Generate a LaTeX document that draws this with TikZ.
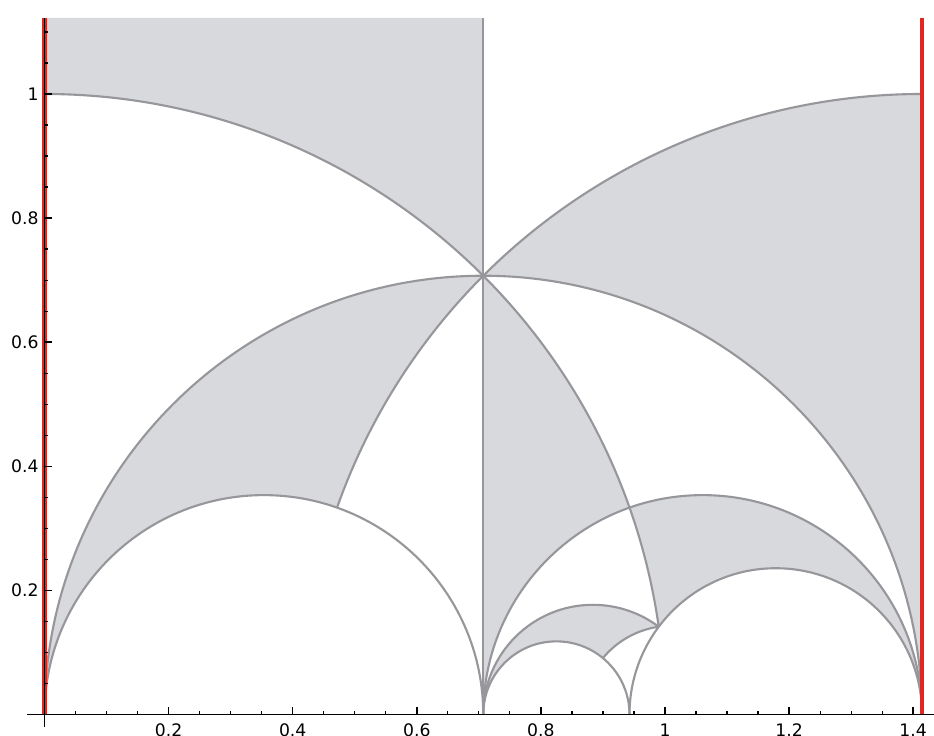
\documentclass[tikz,border=0pt]{standalone}
\usepackage{fontspec}
\setmainfont{DejaVu Sans}
\definecolor{regfill}{RGB}{216,217,220}
\definecolor{geoline}{RGB}{150,150,155}
\definecolor{redc}{RGB}{224,40,32}
\tikzset{
  geo/.style={draw=geoline, line width=0.6pt},
  reg/.style={fill=regfill},
  redbound/.style={draw=redc, line width=1.2pt},
  axisline/.style={draw=black, line width=0.35pt},
  majortick/.style={draw=black, line width=0.4pt},
  minortick/.style={draw=black, line width=0.35pt},
  ticklab/.style={font=\fontsize{4.9}{5.8}\selectfont, inner sep=0pt, text=black}
}
\begin{document}
\begin{tikzpicture}[x=6.205cm,y=6.205cm]
\def\yt{1.1225}
\fill[white] (-0.07172,-0.03465) rectangle (1.43352,1.15149);
\useasboundingbox (-0.07172,-0.03465) rectangle (1.43352,1.15149);
% shaded triangles
\fill[reg] (0,\yt) -- (0,1) arc[start angle=90,end angle=45,radius=1] -- (0.70711,\yt) -- cycle;
\fill[reg] (0.70711,0.70711) arc[start angle=135,end angle=90,radius=1] -- (1.41421,0) arc[start angle=0,end angle=90,radius=0.70711] -- cycle;
\fill[reg] (0,0) arc[start angle=180,end angle=90,radius=0.70711] arc[start angle=135,end angle=160.529,radius=1] arc[start angle=70.529,end angle=180,radius=0.35355] -- cycle;
\fill[reg] (0.70711,0) -- (0.70711,0.70711) arc[start angle=45,end angle=19.471,radius=1] arc[start angle=109.471,end angle=180,radius=0.35355] -- cycle;
\fill[reg] (0.70711,0) arc[start angle=180,end angle=53.130,radius=0.17678] arc[start angle=98.130,end angle=140.48,radius=0.142857] arc[start angle=50.48,end angle=180,radius=0.11785] -- cycle;
\fill[reg] (0.94281,0.33333) arc[start angle=19.471,end angle=8.130,radius=1] arc[start angle=143.130,end angle=0,radius=0.23570] arc[start angle=0,end angle=109.471,radius=0.35355] -- cycle;
% geodesic edges
\draw[geo] (0,1) arc[start angle=90,end angle=8.130,radius=1];
\draw[geo] (1.41421,1) arc[start angle=90,end angle=160.529,radius=1];
\draw[geo] (0,0) arc[start angle=180,end angle=0,radius=0.70711];
\draw[geo] (0,0) arc[start angle=180,end angle=0,radius=0.35355];
\draw[geo] (0.70711,0) arc[start angle=180,end angle=0,radius=0.35355];
\draw[geo] (0.70711,0) arc[start angle=180,end angle=53.130,radius=0.17678];
\draw[geo] (0.70711,0) arc[start angle=180,end angle=0,radius=0.11785];
\draw[geo] (0.94281,0) arc[start angle=180,end angle=0,radius=0.23570];
\draw[geo] (0.98995,0.14142) arc[start angle=98.130,end angle=140.48,radius=0.142857];
\draw[geo] (0.70711,0) -- (0.70711,\yt);
% red boundary lines
\draw[redbound] (0,0) -- (0,\yt);
\draw[redbound] (1.41421,0) -- (1.41421,\yt);
% axes
\draw[axisline] (-0.028,0) -- (1.43352,0);
\draw[axisline] (0,-0.02) -- (0,\yt);
% ticks
\foreach \v in {0.2,0.4,0.6,0.8,1.0,1.2,1.4} \draw[majortick] (\v,0) -- (\v,0.0113);
\foreach \v in {0.05,0.1,0.15,0.25,0.3,0.35,0.45,0.5,0.55,0.65,0.7,0.75,0.85,0.9,0.95,1.05,1.1,1.15,1.25,1.3,1.35} \draw[minortick] (\v,0) -- (\v,0.0056);
\foreach \v in {0.2,0.4,0.6,0.8,1.0} \draw[majortick] (0,\v) -- (0.0113,\v);
\foreach \v in {0.05,0.1,0.15,0.25,0.3,0.35,0.45,0.5,0.55,0.65,0.7,0.75,0.85,0.9,0.95,1.05,1.1} \draw[minortick] (0,\v) -- (0.0056,\v);
% tick labels
\foreach \v/\t/\n in {0.2/0.2/a,0.4/0.4/b,0.6/0.6/c,0.8/0.8/d,1.0/1/e,1.2/1.2/f,1.4/1.4/g}
  \node[ticklab, anchor=north] (xl\n) at (\v,-0.0142) {\t};
\foreach \v/\t/\n in {0.2/0.2/a,0.4/0.4/b,0.6/0.6/c,0.8/0.8/d,1.0/1/e}
  \node[ticklab, anchor=east] (yl\n) at (-0.0084,\v) {\t};
\end{tikzpicture}
\end{document}
